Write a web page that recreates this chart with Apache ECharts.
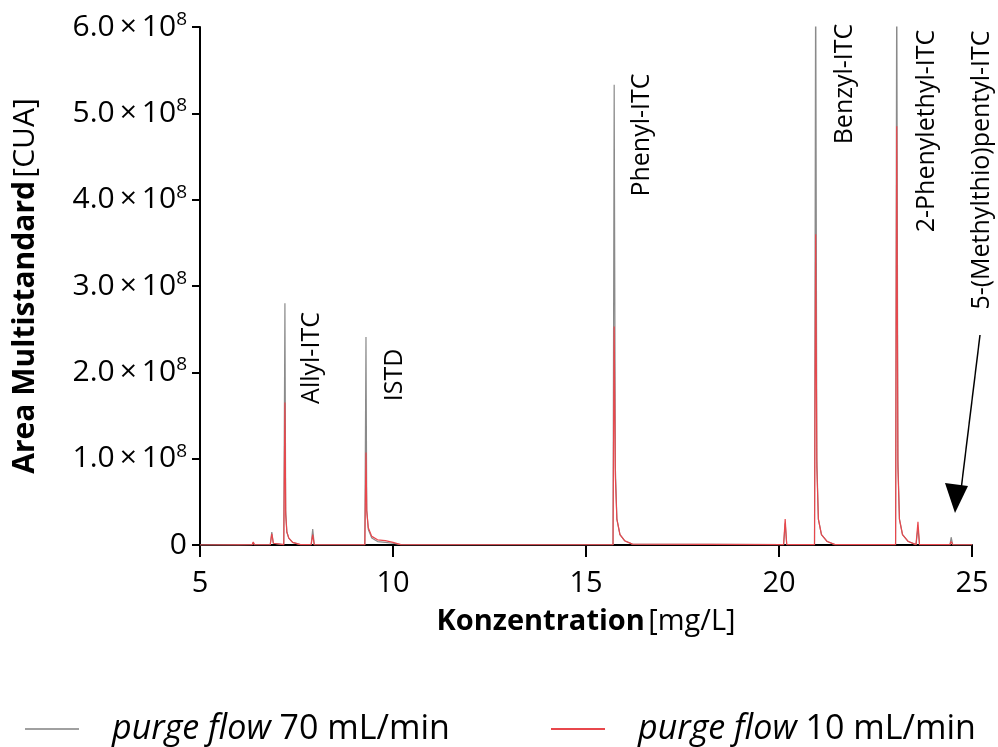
<!DOCTYPE html>
<html>
<head>
<meta charset="utf-8">
<script src="https://cdn.jsdelivr.net/npm/echarts@6/dist/echarts.min.js"></script>
<style>html,body{margin:0;padding:0;background:#fff;}#chart{width:998px;height:747px;}</style>
</head>
<body>
<div id="chart"></div>
<script>
// Concentration [mg/L] sample positions
const conc = [5.0, 6.0, 6.35, 6.38, 6.41, 6.82, 6.86, 6.9, 6.95, 7.17, 7.2, 7.22, 7.25, 7.3, 7.4, 7.6,
  7.88, 7.92, 7.96, 9.27, 9.3, 9.32, 9.36, 9.45, 9.6, 9.8, 10.0, 10.2,
  15.7, 15.73, 15.76, 15.8, 15.88, 16.0, 16.2,
  20.12, 20.16, 20.2, 20.92, 20.95, 20.98, 21.02, 21.1, 21.25, 21.45,
  23.02, 23.05, 23.08, 23.12, 23.2, 23.35, 23.55, 23.6, 23.64,
  24.43, 24.46, 24.5, 25.0];
// Area (x 10^8 CUA), purge flow 70 mL/min
const flow70 = [0, 0.002, 0.003, 0.03, 0.003, 0.004, 0.15, 0.02, 0.005, 0.005, 2.8, 0.4, 0.15, 0.08, 0.03, 0.005,
  0.005, 0.185, 0.005, 0.003, 2.41, 0.4, 0.18, 0.08, 0.04, 0.03, 0.02, 0.005,
  0.003, 5.33, 0.9, 0.3, 0.12, 0.05, 0.01,
  0.005, 0.25, 0.005, 0.005, 6.8, 1.0, 0.3, 0.12, 0.04, 0.005,
  0.005, 6.8, 1.0, 0.3, 0.12, 0.04, 0.005, 0.2, 0.005,
  0.005, 0.09, 0.005, 0.003];
// Area (x 10^8 CUA), purge flow 10 mL/min
const flow10 = [0, 0.002, 0.003, 0.035, 0.003, 0.004, 0.13, 0.02, 0.005, 0.005, 1.65, 0.35, 0.15, 0.08, 0.03, 0.005,
  0.005, 0.12, 0.005, 0.003, 1.07, 0.4, 0.2, 0.1, 0.06, 0.05, 0.03, 0.005,
  0.003, 2.53, 0.8, 0.3, 0.12, 0.05, 0.01,
  0.005, 0.3, 0.005, 0.005, 3.6, 0.9, 0.3, 0.12, 0.04, 0.005,
  0.005, 4.85, 0.9, 0.3, 0.12, 0.04, 0.005, 0.27, 0.005,
  0.005, 0.04, 0.005, 0.003];
const peakLabels = ['Allyl-ITC', 'ISTD', 'Phenyl-ITC', 'Benzyl-ITC', '2-Phenylethyl-ITC', '5-(Methylthio)pentyl-ITC'];
const seriesNames = ['purge flow 70 mL/min', 'purge flow 10 mL/min'];

const FONT = 'Open Sans';
const chart = echarts.init(document.getElementById('chart'));
const pairs = (ys) => conc.map((x, i) => [x, ys[i]]);

const labelPos = [[312, 358], [395, 375], [642, 135], [845, 84], [927, 131], [982, 170]];
const graphics = peakLabels.map((t, i) => ({
  type: 'text', x: labelPos[i][0], y: labelPos[i][1], rotation: Math.PI / 2,
  style: { text: t, font: '25px "' + FONT + '"', fill: '#000', textAlign: 'center', textVerticalAlign: 'middle' }
}));
graphics.push({ type: 'line', shape: { x1: 980, y1: 335, x2: 961, y2: 490 }, style: { stroke: '#000', lineWidth: 1.5 } });
graphics.push({ type: 'polygon', shape: { points: [[955, 513], [945, 483], [968, 486]] }, style: { fill: '#000' } });

const legendFmt = (name) => '{i|purge flow}{n| ' + name.replace('purge flow ', '') + '}';
const legendText = {
  color: '#000',
  padding: [0, 0, 0, 28],
  rich: {
    i: { fontFamily: FONT, fontStyle: 'italic', fontSize: 34, color: '#000', lineHeight: 42 },
    n: { fontFamily: FONT, fontSize: 34, color: '#000', lineHeight: 42 }
  }
};

chart.setOption({
  animation: false,
  backgroundColor: '#fff',
  grid: { left: 200, right: 26, top: 27, bottom: 202, containLabel: false, outerBoundsMode: 'none' },
  legend: [
    { data: [seriesNames[0]], left: 20, top: 707, icon: 'rect', itemWidth: 54, itemHeight: 2, formatter: legendFmt, textStyle: legendText },
    { data: [seriesNames[1]], left: 546, top: 707, icon: 'rect', itemWidth: 54, itemHeight: 2, formatter: legendFmt, textStyle: legendText }
  ],
  xAxis: {
    type: 'value', min: 5, max: 25, interval: 5,
    name: '{b|Konzentration} {n|[mg/L]}', nameLocation: 'middle', nameGap: 62,
    nameTextStyle: { rich: {
      b: { fontFamily: FONT, fontWeight: 'bold', fontSize: 29, color: '#000' },
      n: { fontFamily: FONT, fontSize: 29, color: '#000' } } },
    axisLine: { show: true, lineStyle: { color: '#000', width: 2 } },
    axisTick: { show: true, length: 12, lineStyle: { color: '#000', width: 2 } },
    axisLabel: { fontFamily: FONT, fontSize: 29, color: '#000', margin: 24 },
    splitLine: { show: false }
  },
  yAxis: {
    type: 'value', min: 0, max: 6, interval: 1,
    name: '{b|Area Multistandard} {n|[CUA]}', nameLocation: 'middle', nameGap: 160, nameRotate: 90,
    nameTextStyle: { rich: {
      b: { fontFamily: FONT, fontWeight: 'bold', fontSize: 30, color: '#000' },
      n: { fontFamily: FONT, fontSize: 30, color: '#000' } } },
    axisLine: { show: true, lineStyle: { color: '#000', width: 2 } },
    axisTick: { show: true, length: 8, lineStyle: { color: '#000', width: 2 } },
    axisLabel: {
      margin: 13,
      formatter: (v) => v === 0 ? '{a|0}' : '{a|' + v.toFixed(1) + '\u2009×\u200910}{s|8}',
      rich: {
        a: { fontFamily: FONT, fontSize: 30, color: '#000', lineHeight: 34 },
        s: { fontFamily: FONT, fontSize: 19, color: '#000', verticalAlign: 'top', lineHeight: 34 }
      }
    },
    splitLine: { show: false }
  },
  graphic: graphics,
  series: [
    { name: seriesNames[0], type: 'line', data: pairs(flow70), showSymbol: false, symbol: 'none', clip: true,
      lineStyle: { color: '#8a8a8a', width: 1.2 }, itemStyle: { color: '#a0a0a0' }, z: 2 },
    { name: seriesNames[1], type: 'line', data: pairs(flow10), showSymbol: false, symbol: 'none', clip: true,
      lineStyle: { color: '#e8474c', width: 1.2 }, itemStyle: { color: '#e8474c' }, z: 3 }
  ]
});
</script>
</body>
</html>
